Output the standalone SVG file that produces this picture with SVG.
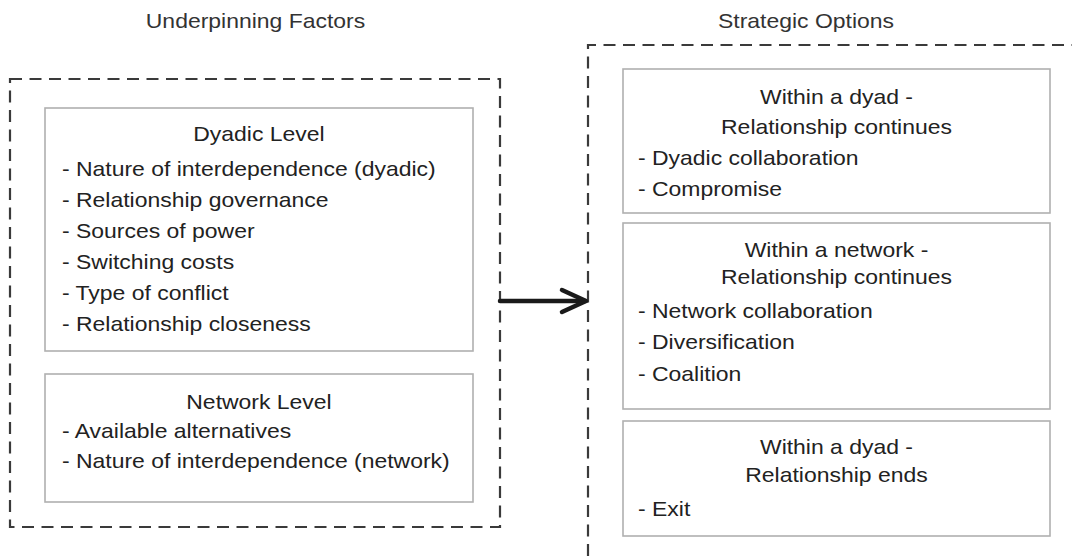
<svg xmlns="http://www.w3.org/2000/svg" width="1072" height="556" viewBox="0 0 1072 556">
<style>
.dash{fill:none;stroke:#3a3a3a;stroke-width:2.2;stroke-dasharray:12 7.5}
.box{fill:#fff;stroke:#b0b0b0;stroke-width:1.6}
text{font-family:"Liberation Sans",Arial,Helvetica,sans-serif;font-size:20.5px;fill:#222;transform-box:fill-box;transform:scaleX(1.12)}
.c{text-anchor:middle;transform-origin:center}
.l{transform-origin:left center}
.h{fill:#333}
.arrow{fill:none;stroke:#1a1a1a;stroke-width:4.5;stroke-linecap:round;stroke-linejoin:round}
</style>
<rect width="1072" height="556" fill="#fff"/>
<g id="underpinning-factors">
<text class="c h" x="255.5" y="28">Underpinning Factors</text>
<rect class="dash" x="10" y="79" width="490" height="448"/>
</g>
<g id="dyadic-level">
<rect class="box" x="45" y="108" width="428" height="243"/>
<text class="c" x="259" y="141">Dyadic Level</text>
<text class="l" x="62" y="176.5">- Nature of interdependence (dyadic)</text>
<text class="l" x="62" y="207">- Relationship governance</text>
<text class="l" x="62" y="238">- Sources of power</text>
<text class="l" x="62" y="269">- Switching costs</text>
<text class="l" x="62" y="300">- Type of conflict</text>
<text class="l" x="62" y="331">- Relationship closeness</text>
</g>
<g id="network-level">
<rect class="box" x="45" y="374" width="428" height="128"/>
<text class="c" x="259" y="409">Network Level</text>
<text class="l" x="62" y="438">- Available alternatives</text>
<text class="l" x="62" y="468">- Nature of interdependence (network)</text>
</g>
<g id="strategic-options">
<text class="c h" x="806" y="28">Strategic Options</text>
<path class="dash" d="M588,556 V45 H1072"/>
</g>
<g id="dyad-continues">
<rect class="box" x="623" y="69" width="427" height="144"/>
<text class="c" x="836.5" y="104">Within a dyad -</text>
<text class="c" x="836.5" y="134">Relationship continues</text>
<text class="l" x="638" y="165">- Dyadic collaboration</text>
<text class="l" x="638" y="196">- Compromise</text>
</g>
<g id="network-continues">
<rect class="box" x="623" y="223" width="427" height="186"/>
<text class="c" x="836.5" y="257">Within a network -</text>
<text class="c" x="836.5" y="284">Relationship continues</text>
<text class="l" x="638" y="318">- Network collaboration</text>
<text class="l" x="638" y="349">- Diversification</text>
<text class="l" x="638" y="381">- Coalition</text>
</g>
<g id="dyad-ends">
<rect class="box" x="623" y="421" width="427" height="115"/>
<text class="c" x="836.5" y="454">Within a dyad -</text>
<text class="c" x="836.5" y="482">Relationship ends</text>
<text class="l" x="638" y="516">- Exit</text>
</g>
<g id="connectors">
<path class="arrow" d="M500,301 H585"/>
<path class="arrow" d="M562,290 L586,301 L562,312"/>
</g>
</svg>
